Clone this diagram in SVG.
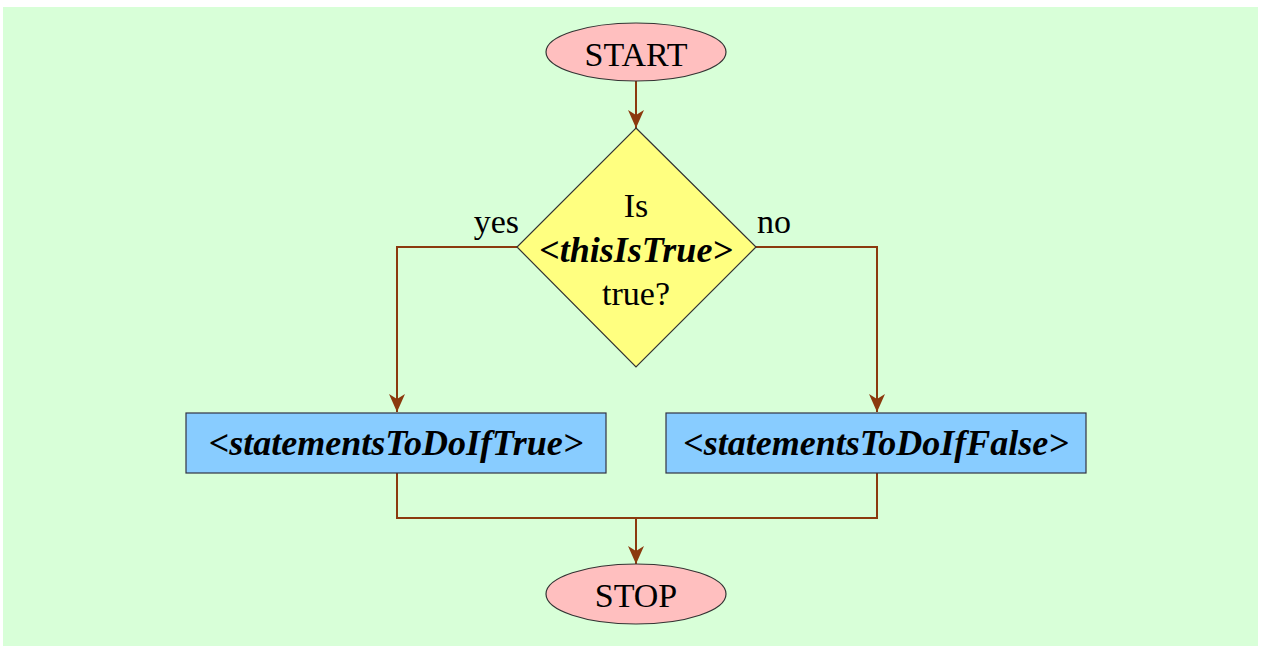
<svg xmlns="http://www.w3.org/2000/svg" width="1261" height="648" viewBox="0 0 1261 648">
<style>
.bg{fill:#D8FFD8}
.term{fill:#FFBFBF;stroke:#333;stroke-width:1.2}
.dec{fill:#FFFF80;stroke:#333;stroke-width:1.2}
.proc{fill:#88CCFF;stroke:#334;stroke-width:1.2}
.t{font-family:"Liberation Serif",serif;font-size:34px;fill:#000;text-anchor:middle}
.bi{font-weight:bold;font-style:italic;font-size:36px}
.c{fill:none;stroke:#8B3A0E;stroke-width:2}
</style>
<defs>
<marker id="ah" viewBox="0 0 18 16" refX="18" refY="8" markerWidth="18" markerHeight="16" markerUnits="userSpaceOnUse" orient="auto">
<path d="M0,0 L18,8 L0,16 L5,8 Z" fill="#8B3A0E"/>
</marker>
</defs>
<rect class="bg" x="3" y="7" width="1255" height="639"/>
<g id="connectors">
<line class="c" x1="636" y1="81" x2="636" y2="128" marker-end="url(#ah)"/>
<polyline class="c" points="517,247 397,247 397,412" marker-end="url(#ah)"/>
<polyline class="c" points="755,247 877,247 877,412" marker-end="url(#ah)"/>
<polyline class="c" points="397,473 397,518 877,518 877,473"/>
<line class="c" x1="636" y1="518" x2="636" y2="564" marker-end="url(#ah)"/>
<text class="t" x="519" y="233" style="text-anchor:end">yes</text>
<text class="t" x="757" y="233" style="text-anchor:start">no</text>
</g>
<g id="start">
<ellipse class="term" cx="636" cy="52" rx="90" ry="29"/>
<text class="t" x="636" y="66">START</text>
</g>
<g id="decision">
<polygon class="dec" points="636,128 756,247 636,367 517,247"/>
<text class="t" x="636" y="217">Is</text>
<text class="t bi" x="636" y="262">&lt;thisIsTrue&gt;</text>
<text class="t" x="636" y="305">true?</text>
</g>
<g id="ifTrue">
<rect class="proc" x="186" y="413" width="420" height="60"/>
<text class="t bi" x="396" y="455">&lt;statementsToDoIfTrue&gt;</text>
</g>
<g id="ifFalse">
<rect class="proc" x="666" y="413" width="420" height="60"/>
<text class="t bi" x="876" y="455">&lt;statementsToDoIfFalse&gt;</text>
</g>
<g id="stop">
<ellipse class="term" cx="636" cy="594" rx="90" ry="30"/>
<text class="t" x="636" y="607">STOP</text>
</g>
</svg>
